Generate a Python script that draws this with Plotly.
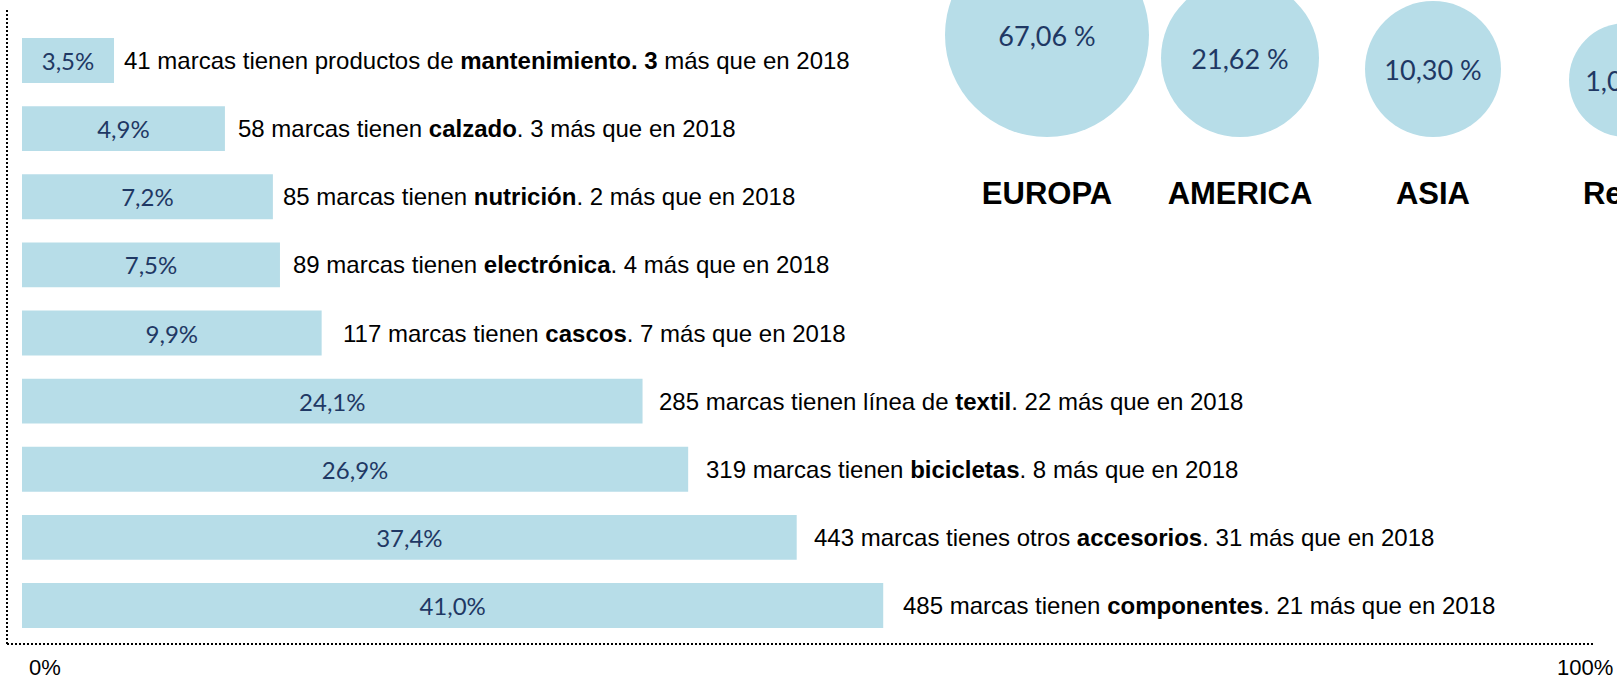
import plotly.graph_objects as go

# bar rows, top to bottom
products = ["mantenimiento", "calzado", "nutrición", "electrónica", "cascos",
            "textil", "bicicletas", "accesorios", "componentes"]
shares = [3.5, 4.9, 7.2, 7.5, 9.9, 24.1, 26.9, 37.4, 41.0]
# bar lengths as drawn in the original (0-100 scale), not proportional to the shares
bar_len = [5.85, 12.9, 15.95, 16.4, 19.05, 39.45, 42.35, 49.25, 54.75]
brands = [41, 58, 85, 89, 117, 285, 319, 443, 485]
more_than_2018 = [3, 3, 2, 4, 7, 22, 8, 31, 21]
verbs = ["tienen productos de", "tienen", "tienen", "tienen", "tienen",
         "tienen línea de", "tienen", "tienes otros", "tienen"]

# bubbles
regions = ["EUROPA", "AMERICA", "ASIA", "Resto"]
region_share = [67.06, 21.62, 10.30, 1.02]

BLUE = "#b7dde8"
NAVY = "#1f3864"
W, H = 1617, 676
TXT = "Liberation Sans, Arial"

fig = go.Figure()

fig.add_trace(go.Bar(
    x=bar_len, y=products, orientation="h", width=0.66,
    marker=dict(color=BLUE, line=dict(width=0)),
    customdata=shares, texttemplate="%{customdata:.1f}%",
    textposition="inside", insidetextanchor="middle", textangle=0,
    insidetextfont=dict(family="Lato", size=24, color=NAVY),
    hoverinfo="skip",
))

# bubbles, bottom-aligned; the last one runs off the right edge as in the original
bubble_px = [204, 158, 136, 114]
base = 137
centers = [base - d / 2 for d in bubble_px]
fig.add_trace(go.Scatter(
    x=regions, y=centers, xaxis="x2", yaxis="y2", mode="markers",
    marker=dict(size=bubble_px, color=BLUE, line=dict(width=0), opacity=1),
    cliponaxis=True, hoverinfo="skip",
))
fig.add_trace(go.Scatter(
    x=regions, y=[c + 4 for c in centers], xaxis="x2", yaxis="y2", mode="text",
    text=[f"{v:.2f} %".replace(".", ",") for v in region_share],
    textposition="middle center",
    textfont=dict(family="Lato", size=27, color=NAVY),
    cliponaxis=True, hoverinfo="skip",
))
fig.add_trace(go.Scatter(
    x=regions, y=[196] * len(regions), xaxis="x2", yaxis="y2", mode="text",
    text=regions, textposition="middle center",
    textfont=dict(family=TXT, size=31, color="black", weight="bold"),
    cliponaxis=True, hoverinfo="skip",
))

gaps = [8, 11, 8, 11, 19, 14, 16, 15, 18]
for i, p in enumerate(products):
    if i == 0:
        txt = f"{brands[i]} marcas {verbs[i]} <b>{p}. {more_than_2018[i]}</b> más que en 2018"
    else:
        txt = f"{brands[i]} marcas {verbs[i]} <b>{p}</b>. {more_than_2018[i]} más que en 2018"
    fig.add_annotation(x=bar_len[i], y=p, text=txt, showarrow=False,
                       xanchor="left", yanchor="middle", xshift=gaps[i],
                       font=dict(family=TXT, size=24, color="black"))

fig.add_annotation(x=0, y=0, xref="x", yref="paper", yshift=9, text="0%", showarrow=False,
                   xanchor="left", yanchor="middle", xshift=5,
                   font=dict(family=TXT, size=22, color="black"))
fig.add_annotation(x=100, y=0, xref="x", yref="paper", yshift=9, text="100%", showarrow=False,
                   xanchor="right", yanchor="middle", xshift=20,
                   font=dict(family=TXT, size=22, color="black"))

# dotted frame (left and bottom)
x_left = 7 / W
y_bot = 1 - 644 / H
fig.add_shape(type="line", xref="paper", yref="paper", x0=x_left, x1=x_left, y0=y_bot, y1=1 - 10 / H,
              line=dict(color="black", width=2, dash="2px,2px"))
fig.add_shape(type="line", xref="paper", yref="paper", x0=x_left, x1=1595 / W, y0=y_bot, y1=y_bot,
              line=dict(color="black", width=2, dash="2px,2px"))

row = 68.1
step, first = 193, 1047
lo = -0.7
fig.update_layout(
    width=W, height=H, margin=dict(l=0, r=0, t=0, b=0),
    paper_bgcolor="white", plot_bgcolor="rgba(0,0,0,0)",
    showlegend=False, separators=",.",
    xaxis=dict(domain=[22 / W, 1595 / W], range=[0, 100], visible=False),
    yaxis=dict(domain=[1 - 644 / H, 1 - 10 / H], type="category",
               range=[8 + (644 - 605.5) / row, -(60.5 - 10) / row], visible=False),
    xaxis2=dict(domain=[(first + lo * step) / W, 1], range=[lo, (W - first) / step], type="category",
                anchor="y2", visible=False),
    yaxis2=dict(domain=[0, 1], range=[H, 0], anchor="x2", visible=False),
)

fig.write_html("out.html", config={"displayModeBar": False},
               post_script="document.body.style.margin='0';")
